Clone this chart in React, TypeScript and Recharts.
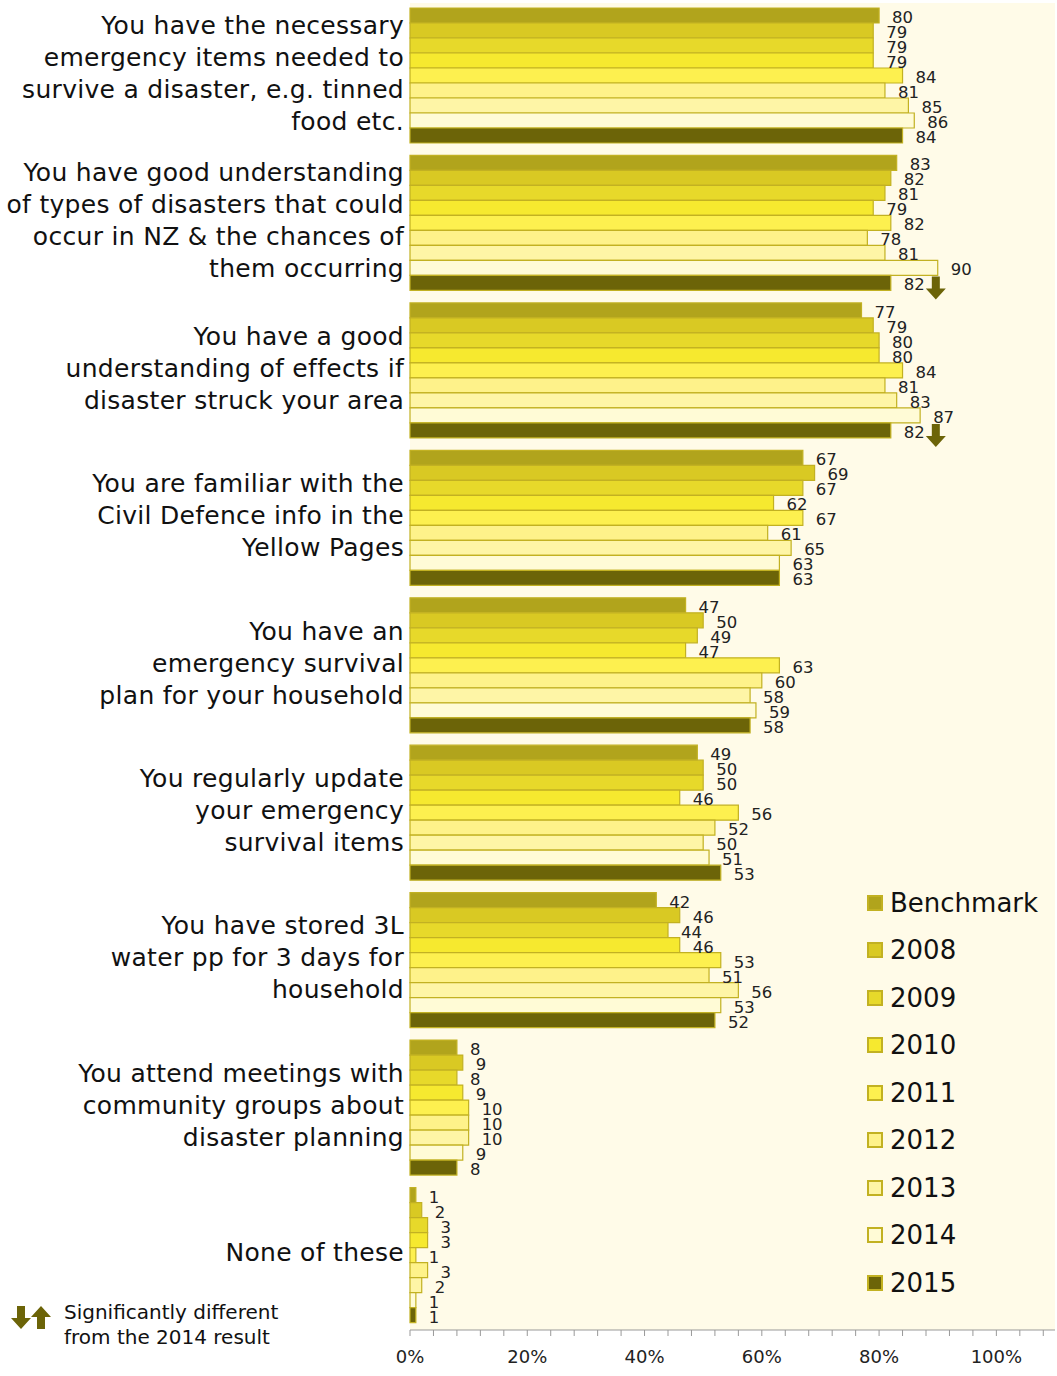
import React from 'react'
import { BarChart, Bar, XAxis, YAxis, CartesianGrid, LabelList } from 'recharts'

const CATEGORY_LINES: string[][] = [
  ['You have the necessary', 'emergency items needed to', 'survive a disaster, e.g. tinned', 'food etc.'],
  ['You have good understanding', 'of types of disasters that could', 'occur in NZ & the chances of', 'them occurring'],
  ['You have a good', 'understanding of effects if', 'disaster struck your area'],
  ['You are familiar with the', 'Civil Defence info in the', 'Yellow Pages'],
  ['You have an', 'emergency survival', 'plan for your household'],
  ['You regularly update', 'your emergency', 'survival items'],
  ['You have stored 3L', 'water pp for 3 days for', 'household'],
  ['You attend meetings with', 'community groups about', 'disaster planning'],
  ['None of these'],
]

const SERIES = ['Benchmark', '2008', '2009', '2010', '2011', '2012', '2013', '2014', '2015']

const BENCHMARK = [80, 83, 77, 67, 47, 49, 42, 8, 1]
const Y2008 = [79, 82, 79, 69, 50, 50, 46, 9, 2]
const Y2009 = [79, 81, 80, 67, 49, 50, 44, 8, 3]
const Y2010 = [79, 79, 80, 62, 47, 46, 46, 9, 3]
const Y2011 = [84, 82, 84, 67, 63, 56, 53, 10, 1]
const Y2012 = [81, 78, 81, 61, 60, 52, 51, 10, 3]
const Y2013 = [85, 81, 83, 65, 58, 50, 56, 10, 2]
const Y2014 = [86, 90, 87, 63, 59, 51, 53, 9, 1]
const Y2015 = [84, 82, 82, 63, 58, 53, 52, 8, 1]

// significance of 2015 vs 2014
const SIG_2015 = ['', 'down', 'down', '', '', '', '', '', '']

const X_TICKS = [0, 4, 8, 12, 16, 20, 24, 28, 32, 36, 40, 44, 48, 52, 56, 60, 64, 68, 72, 76, 80, 84, 88, 92, 96, 100, 104, 108]

const VALUES = [BENCHMARK, Y2008, Y2009, Y2010, Y2011, Y2012, Y2013, Y2014, Y2015]
const COLORS = ['#b1a41c', '#d9c923', '#e7d92a', '#f6e92f', '#fdf04f', '#fef28a', '#fef5a6', '#fffbd6', '#6c6408']
const STROKE = '#c2b122'
const ARROW = '#6c6408'
const FONT = '"DejaVu Sans", sans-serif'

const data = CATEGORY_LINES.map((lines, i) => {
  const row: Record<string, any> = { name: lines.join(' '), idx: i }
  SERIES.forEach((s, k) => { row[s] = VALUES[k][i] })
  return row
})

function CategoryTick({ x, y, payload }: any) {
  const lines = CATEGORY_LINES[payload.index] || []
  const n = lines.length
  return (
    <text x={x + 2} y={y - 3} textAnchor="end" fontSize={25} fontFamily={FONT} fill="#111" letterSpacing={0.3}>
      {lines.map((l, i) => (
        <tspan key={i} x={x + 2} dy={i === 0 ? (-(n - 1) / 2) * 32 + 8 : 32}>{l}</tspan>
      ))}
    </text>
  )
}

function DownArrow({ cx, top }: { cx: number; top: number }) {
  return (
    <path
      d={`M${cx - 4},${top} L${cx + 4},${top} L${cx + 4},${top + 12} L${cx + 10},${top + 12} L${cx},${top + 23} L${cx - 10},${top + 12} L${cx - 4},${top + 12} Z`}
      fill={ARROW}
    />
  )
}

function makeLabel(series: string) {
  return function ValueLabel(props: any) {
    const { x, y, width, height, value, index } = props
    const tx = x + width + 13
    const ty = y + height / 2 + 2
    const sig = series === '2015' ? SIG_2015[index] : ''
    return (
      <g>
        <text x={tx} y={ty} dominantBaseline="central" fontSize={16.5} fontFamily={FONT} fill="#222">{value}</text>
        {sig === 'down' && <DownArrow cx={tx + 32} top={y + 1} />}
      </g>
    )
  }
}

export default function App() {
  return (
    <div style={{ position: 'absolute', left: 0, top: 0, width: 1057, height: 1376, background: '#fff' }}>
      <BarChart
        width={1057}
        height={1376}
        data={data}
        layout="vertical"
        margin={{ top: 3, right: 2, left: 0, bottom: 6 }}
        barCategoryGap={5}
        barGap={0}
      >
        <CartesianGrid fill="#fffbe8" horizontal={false} vertical={false} stroke="none" />
        <XAxis
          type="number"
          domain={[0, 110]}
          ticks={X_TICKS}
          interval={0}
          height={40}
          tickFormatter={(v: number) => (v % 20 === 0 ? `${v}%` : '')}
          tick={{ fontSize: 18, fontFamily: FONT, fill: '#222' }}
          stroke="#999"
          tickSize={6}
          tickMargin={14}
        />
        <YAxis
          type="category"
          dataKey="name"
          width={410}
          axisLine={false}
          tickLine={false}
          interval={0}
          tick={<CategoryTick />}
        />
        {SERIES.map((s, k) => (
          <Bar key={s} dataKey={s} fill={COLORS[k]} stroke={STROKE} strokeWidth={1.2} isAnimationActive={false}>
            <LabelList dataKey={s} content={makeLabel(s)} />
          </Bar>
        ))}
      </BarChart>

      {/* legend */}
      <div style={{ position: 'absolute', left: 867, top: 879, fontFamily: FONT, fontSize: 26, color: '#111' }}>
        {SERIES.map((s, k) => (
          <div key={s} style={{ display: 'flex', alignItems: 'center', height: 47.5 }}>
            <span style={{ display: 'inline-block', width: 12, height: 12, background: COLORS[k], border: `2px solid ${STROKE}`, marginRight: 7 }} />
            <span>{s}</span>
          </div>
        ))}
      </div>

      {/* significance note */}
      <div style={{ position: 'absolute', left: 10, top: 1300, display: 'flex', fontFamily: FONT, fontSize: 20, color: '#111' }}>
        <svg width={44} height={30} style={{ marginTop: 4 }}>
          <DownArrow cx={11} top={2} />
          <path d="M27,25 L35,25 L35,13 L41,13 L31,2 L21,13 L27,13 Z" fill={ARROW} />
        </svg>
        <div style={{ marginLeft: 10, lineHeight: '25px' }}>
          <div>Significantly different</div>
          <div>from the 2014 result</div>
        </div>
      </div>
    </div>
  )
}
